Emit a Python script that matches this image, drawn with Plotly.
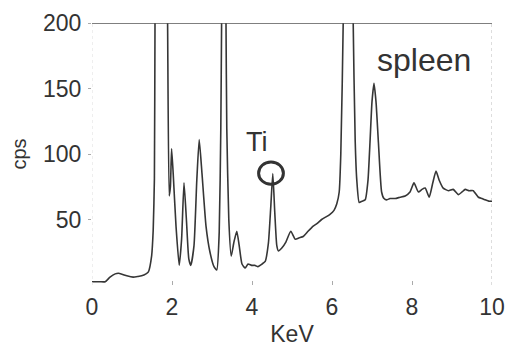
import plotly.graph_objects as go

# Spectrum (energy in keV, counts per second)
kev = [0.0, 0.1, 0.2, 0.33, 0.45, 0.58, 0.66, 0.77, 0.87, 1.03, 1.15, 1.24, 1.35, 1.41,
       1.49, 1.53, 1.56, 1.575, 1.6, 1.72, 1.86, 1.89, 1.93, 1.96, 1.99, 2.03, 2.1, 2.18,
       2.24, 2.30, 2.36, 2.42, 2.47, 2.55, 2.62, 2.68, 2.75, 2.85, 2.95, 3.05, 3.12, 3.18,
       3.22, 3.24, 3.30, 3.35, 3.37, 3.42, 3.48, 3.55, 3.62, 3.68, 3.75, 3.83, 3.9, 3.99,
       4.07, 4.15, 4.25, 4.33, 4.41, 4.47, 4.52, 4.57, 4.62, 4.66, 4.74, 4.85, 4.97, 5.08,
       5.18, 5.28, 5.4, 5.53, 5.63, 5.74, 5.85, 5.95, 6.05, 6.12, 6.18, 6.22, 6.28, 6.40,
       6.53, 6.58, 6.62, 6.68, 6.75, 6.83, 6.9, 6.95, 7.0, 7.05, 7.1, 7.16, 7.24, 7.3,
       7.37, 7.45, 7.58, 7.7, 7.83, 7.95, 8.05, 8.16, 8.25, 8.33, 8.43, 8.52, 8.6, 8.68,
       8.78, 8.91, 9.03, 9.16, 9.25, 9.33, 9.43, 9.53, 9.66, 9.75, 9.83, 9.92, 10.0]
cps = [2.5, 2.5, 2.5, 2.5, 6, 8.5, 9, 8, 7, 6, 6.5, 7, 8.5, 10,
       22, 42, 81, 200, 300, 700, 300, 200, 68, 75, 104, 85, 45, 15,
       35, 78, 50, 20, 15, 30, 80, 111, 85, 45, 25, 14, 11.5, 40,
       119, 200, 450, 200, 119, 50, 22, 33, 41, 30, 16, 13, 16, 15,
       15, 14, 16, 18, 32, 60, 85, 55, 30, 26, 28, 33, 41, 35,
       36, 37, 41, 45, 47, 50, 52, 54, 57, 62, 71, 100, 200, 900,
       200, 110, 80, 63, 64, 65, 80, 109, 140, 154, 140, 109, 71, 66,
       65, 66, 66, 67, 68, 71, 78, 71, 73, 74, 67, 78, 87, 80,
       74, 72, 73, 69, 71, 73, 72, 72, 67, 66, 65, 64, 64]

x_ticks = [0, 2, 4, 6, 8, 10]
y_ticks = [50, 100, 150, 200]

ink = "#333333"
font_family = "Liberation Sans, Arial, sans-serif"

fig = go.Figure()
fig.add_trace(go.Scatter(x=kev, y=cps, mode="lines",
                         line=dict(color="#363636", width=1.6, shape="spline", smoothing=0.5),
                         showlegend=False, cliponaxis=True))

# page body has an 8px margin, so the figure is sized/offset to compensate
fig.update_layout(
    width=507, height=339,
    margin=dict(l=84, r=23, t=15, b=62),
    paper_bgcolor="white", plot_bgcolor="white",
    font=dict(family=font_family, color=ink),
    xaxis=dict(range=[0, 10], tickvals=x_ticks, showgrid=False, zeroline=False,
               showline=False, ticks="inside", ticklen=4, tickcolor="#aaaaaa",
               automargin=False, ticklabelstandoff=6,
               tickfont=dict(size=23, color=ink),
               title=dict(text="KeV", font=dict(size=23, color=ink), standoff=7)),
    yaxis=dict(range=[0, 200], tickvals=y_ticks, showgrid=False, zeroline=False,
               showline=False, ticks="outside", ticklen=3, tickcolor="#aaaaaa",
               automargin=False, ticklabelstandoff=2,
               tickfont=dict(size=23, color=ink),
               title=dict(text="cps", font=dict(size=20, color=ink), standoff=12)),
)

# frame: solid top, dotted faint sides
fig.add_shape(type="line", xref="x", yref="y", x0=0, x1=10, y0=200, y1=200,
              line=dict(color="#555555", width=1.3))
fig.add_shape(type="line", xref="x", yref="y", x0=10, x1=10, y0=0, y1=200,
              line=dict(color="#bbbbbb", width=1, dash="dot"))
fig.add_shape(type="line", xref="x", yref="y", x0=0, x1=0, y0=0, y1=200,
              line=dict(color="#dddddd", width=1, dash="dot"))

# Ti marker circle
fig.add_shape(type="circle", xref="x", yref="y", x0=4.165, x1=4.785, y0=76.9, y1=93.9,
              line=dict(color=ink, width=3))

fig.add_annotation(x=4.125, y=109, xref="x", yref="y", text="Ti", showarrow=False,
                   font=dict(size=27, color=ink), xanchor="center", yanchor="middle")
fig.add_annotation(x=8.3, y=171.5, xref="x", yref="y", text="spleen", showarrow=False,
                   font=dict(size=32, color=ink), xanchor="center", yanchor="middle")

fig.write_html("out.html")
